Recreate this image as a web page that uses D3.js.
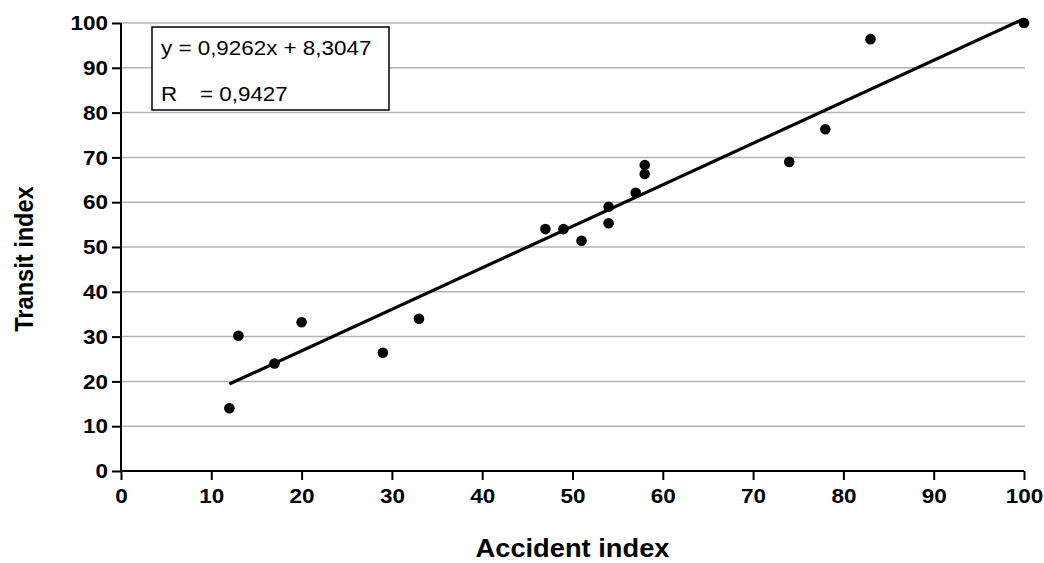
<!DOCTYPE html>
<html>
<head>
<meta charset="utf-8">
<script src="https://cdn.jsdelivr.net/npm/d3@7"></script>
<style>
  html, body { margin: 0; padding: 0; background: #fff; }
  svg { display: block; font-family: Arial, "Liberation Sans", sans-serif; }
</style>
</head>
<body>
<svg id="chart" width="1044" height="563"></svg>
<script>
// Accident index vs. transit index for each observed unit
const accidentIndex = [12, 13, 17, 20, 29, 33, 47, 49, 51, 54, 54, 57, 58, 58, 74, 78, 83, 100];
const transitIndex  = [14, 30.2, 24, 33.2, 26.4, 34, 54, 54, 51.4, 59, 55.3, 62.1, 66.3, 68.3, 69, 76.3, 96.4, 100];

// Linear trend shown in the label box
const trendSlope = [0.9262];
const trendIntercept = [8.3047];
const trendLabel = ["y = 0,9262x + 8,3047"];
const rLabel = ["R", "= 0,9427"];

const xTicks = [0, 10, 20, 30, 40, 50, 60, 70, 80, 90, 100];
const yTicks = [0, 10, 20, 30, 40, 50, 60, 70, 80, 90, 100];

const svg = d3.select("#chart");
const plotLeft = 121, plotRight = 1024, plotTop = 23, plotBottom = 471;
const stretch = 1.07; // text is set slightly wide

const x = d3.scaleLinear().domain([0, 100]).range([plotLeft, plotRight]);
const y = d3.scaleLinear().domain([0, 100]).range([plotBottom, plotTop]);

// horizontal gridlines
svg.append("g")
  .selectAll("line")
  .data(yTicks.filter(d => d > 0))
  .join("line")
  .attr("x1", plotLeft).attr("x2", plotRight + 1)
  .attr("y1", d => y(d)).attr("y2", d => y(d))
  .attr("stroke", "#b3b3b3")
  .attr("stroke-width", 1.5);

// axes
const yAxis = svg.append("g")
  .attr("transform", `translate(${plotLeft},0)`)
  .call(d3.axisLeft(y).tickValues(yTicks).tickSize(9).tickPadding(4).tickFormat(d3.format("d")));
const xAxis = svg.append("g")
  .attr("transform", `translate(0,${plotBottom})`)
  .call(d3.axisBottom(x).tickValues(xTicks).tickSize(9).tickPadding(8).tickFormat(d3.format("d")));

[yAxis, xAxis].forEach(g => {
  g.select(".domain").attr("stroke", "#000").attr("stroke-width", 2);
  g.selectAll(".tick line").attr("stroke", "#000").attr("stroke-width", 2);
  g.selectAll(".tick text")
    .attr("fill", "#000")
    .attr("font-size", 21)
    .attr("font-weight", "bold")
    .attr("font-family", "Arial, 'Liberation Sans', sans-serif")
    .attr("transform", `scale(${stretch},1)`);
});
yAxis.selectAll(".tick text").attr("x", -13 / stretch);
yAxis.select(".domain").attr("d", `M0,${plotBottom}V${plotTop}`);
xAxis.select(".domain").attr("d", `M${plotLeft},0H${plotRight}`);

// trend line over the data range
const xExtent = d3.extent(accidentIndex);
const trend = xExtent.map(v => [v, trendSlope[0] * v + trendIntercept[0]]);
svg.append("path")
  .datum(trend)
  .attr("fill", "none")
  .attr("stroke", "#000")
  .attr("stroke-width", 3.2)
  .attr("d", d3.line().x(d => x(d[0])).y(d => y(d[1])));

// observations
svg.append("g")
  .selectAll("circle")
  .data(accidentIndex.map((v, i) => [v, transitIndex[i]]))
  .join("circle")
  .attr("cx", d => x(d[0]))
  .attr("cy", d => y(d[1]))
  .attr("r", 5.3)
  .attr("fill", "#000");

// equation box
const box = svg.append("g");
box.append("rect")
  .attr("x", 152).attr("y", 27).attr("width", 237).attr("height", 83)
  .attr("fill", "#fff").attr("stroke", "#000").attr("stroke-width", 1.5);
function boxText(px, py, s) {
  box.append("text")
    .attr("transform", `translate(${px},${py}) scale(1.12,1)`)
    .attr("font-size", 20)
    .text(s);
}
boxText(161, 55, trendLabel[0]);
boxText(161, 101, rLabel[0]);
boxText(200, 101, rLabel[1]);

// axis titles
svg.append("text")
  .attr("transform", `translate(${(plotLeft + plotRight) / 2},557) scale(1.07,1)`)
  .attr("text-anchor", "middle")
  .attr("font-size", 25.5).attr("font-weight", "bold")
  .text("Accident index");
svg.append("text")
  .attr("transform", `translate(33,${(plotTop + plotBottom) / 2 + 12}) scale(1.07,1) rotate(-90)`)
  .attr("text-anchor", "middle")
  .attr("font-size", 23.6).attr("font-weight", "bold")
  .text("Transit index");
</script>
</body>
</html>
